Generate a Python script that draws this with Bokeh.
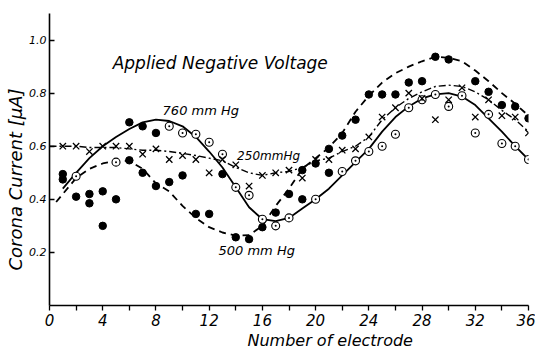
from bokeh.plotting import figure
from bokeh.models import Label, FixedTicker, Range1d, Title
from bokeh.embed import file_html
from bokeh.resources import INLINE

# ---------------- data ----------------
x_major_ticks = [0, 4, 8, 12, 16, 20, 24, 28, 32, 36]
x_minor_ticks = [2, 6, 10, 14, 18, 22, 26, 30, 34]
y_ticks = [0.2, 0.4, 0.6, 0.8, 1.0]
y_tick_labels = ["0.2", "0.4", "0.6", "0.8", "1.0"]

# filled dots
filled_x = [1, 1, 2, 3, 3, 4, 4, 5, 6, 6, 7, 7, 8, 8, 9, 10, 11, 12, 13, 14,
            15, 16, 17, 18, 19, 19, 20, 21, 21, 22, 23, 24, 25, 26, 27, 28, 29, 30, 32, 33,
            34, 35, 36]
filled_y = [0.495, 0.475, 0.41, 0.42, 0.385, 0.43, 0.30, 0.40, 0.69, 0.547,
            0.675, 0.50, 0.65, 0.45, 0.465, 0.49, 0.345, 0.345, 0.495, 0.257,
            0.25, 0.295, 0.35, 0.42, 0.40, 0.51, 0.535, 0.50, 0.59, 0.64,
            0.70, 0.795, 0.795, 0.795, 0.84, 0.845, 0.937, 0.927, 0.845, 0.805,
            0.755, 0.75, 0.705]

# circles with a dot
dotted_x = [2, 5, 9, 10, 11, 12, 13, 14, 15, 16, 17, 18, 20, 22, 23, 24, 25, 26,
            27, 28, 29, 30, 31, 32, 33, 34, 35, 36]
dotted_y = [0.487, 0.54, 0.675, 0.65, 0.645, 0.615, 0.57, 0.445, 0.415, 0.325,
            0.30, 0.33, 0.40, 0.505, 0.545, 0.58, 0.60, 0.645, 0.745, 0.775,
            0.795, 0.75, 0.79, 0.65, 0.72, 0.61, 0.60, 0.55]

# crosses (250 mmHg)
cross_x = list(range(1, 37))
cross_y = [0.60, 0.60, 0.58, 0.60, 0.60, 0.60, 0.57, 0.59, 0.55, 0.565,
           0.55, 0.50, 0.55, 0.53, 0.45, 0.49, 0.50, 0.51, 0.48, 0.55,
           0.55, 0.585, 0.59, 0.635, 0.71, 0.745, 0.80, 0.78, 0.70, 0.775,
           0.82, 0.71, 0.775, 0.715, 0.71, 0.65]

# drawn curves
curve760_x = list(range(1, 37))
curve760_y = [0.44, 0.50, 0.555, 0.60, 0.635, 0.665, 0.69, 0.70, 0.695, 0.675,
              0.635, 0.58, 0.52, 0.445, 0.37, 0.325, 0.318, 0.33, 0.365, 0.40,
              0.44, 0.49, 0.54, 0.59, 0.655, 0.71, 0.75, 0.78, 0.795, 0.80,
              0.787, 0.755, 0.705, 0.655, 0.60, 0.55]

curve500_x = [0.5] + list(range(1, 37))
curve500_y = [0.39, 0.42, 0.48, 0.515, 0.535, 0.545, 0.545, 0.515, 0.46, 0.43,
              0.375, 0.33, 0.295, 0.275, 0.263, 0.265, 0.30, 0.375, 0.44, 0.515,
              0.555, 0.595, 0.65, 0.73, 0.79, 0.84, 0.875, 0.90, 0.92, 0.937,
              0.933, 0.92, 0.885, 0.845, 0.80, 0.76, 0.715]

curve250_x = list(range(0, 37))
curve250_y = [0.60, 0.60, 0.60, 0.595, 0.595, 0.595, 0.59, 0.585, 0.585, 0.58,
              0.573, 0.565, 0.555, 0.545, 0.52, 0.50, 0.49, 0.50, 0.505, 0.52,
              0.545, 0.555, 0.58, 0.60, 0.635, 0.70, 0.745, 0.78, 0.805, 0.825,
              0.83, 0.825, 0.805, 0.775, 0.735, 0.70, 0.655]

FONT = "DejaVu Sans"

p = figure(width=535, height=349, output_backend="svg", toolbar_location=None,
           x_range=Range1d(0, 36), y_range=Range1d(0, 1.1),
           min_border_left=49, min_border_right=7, min_border_top=13,
           min_border_bottom=44)
p.outline_line_color = None
p.grid.visible = False
p.background_fill_color = "white"
p.border_fill_color = "white"

# curves
p.line(curve760_x, curve760_y, line_color="black", line_width=1.8)
p.line(curve500_x, curve500_y, line_color="black", line_width=1.8, line_dash="7 5")
p.line(curve250_x, curve250_y, line_color="black", line_width=1.4, line_dash="7 3 2 3")

# markers
p.scatter(filled_x, filled_y, marker="circle", size=7.5, fill_color="black",
          line_color="black")
p.scatter(dotted_x, dotted_y, marker="circle_dot", size=8, fill_color="white",
          line_color="black", line_width=1.1)
p.scatter(cross_x, cross_y, marker="x", size=9, line_color="black", line_width=1.3)

# axes
for ax in (p.xaxis, p.yaxis):
    ax.axis_line_width = 1.6
    ax.axis_line_color = "black"
    ax.major_tick_line_color = "black"
    ax.minor_tick_line_color = "black"
    ax.major_tick_line_width = 1.3
    ax.minor_tick_line_width = 1.3
    ax.major_label_text_font = FONT
    ax.major_label_text_font_style = "italic"
    ax.major_label_text_color = "black"

p.xaxis.ticker = FixedTicker(ticks=x_major_ticks, minor_ticks=x_minor_ticks)
p.xaxis.major_tick_in = 0
p.xaxis.major_tick_out = 5
p.xaxis.minor_tick_in = 0
p.xaxis.minor_tick_out = 5
p.xaxis.major_label_text_font_size = "15px"
p.xaxis.major_label_standoff = 3

p.yaxis.ticker = FixedTicker(ticks=y_ticks, minor_ticks=[])
p.yaxis.major_label_overrides = {t: s for t, s in zip(y_ticks, y_tick_labels)}
p.yaxis.major_tick_in = 5
p.yaxis.major_tick_out = 0
p.yaxis.major_label_text_font_size = "11px"
p.yaxis.major_label_standoff = 3

# axis titles, placed like the original
p.add_layout(Title(text="Corona Current [\u03bcA]", align="left", offset=35,
                   standoff=2, text_font=FONT, text_font_style="italic",
                   text_font_size="18px", text_color="black"), "left")
p.add_layout(Title(text="Number  of  electrode", align="left", offset=198,
                   standoff=0, text_font=FONT, text_font_style="italic",
                   text_font_size="16px", text_color="black"), "below")

# annotations inside the plot
p.add_layout(Label(x=4.75, y=0.913, text="Applied  Negative  Voltage",
                   text_align="left", text_baseline="middle", text_font=FONT,
                   text_font_style="italic", text_font_size="17px",
                   text_color="black"))
p.add_layout(Label(x=8.5, y=0.733, text="760  mm Hg", text_align="left",
                   text_baseline="middle", text_font=FONT,
                   text_font_style="italic", text_font_size="13px",
                   text_color="black"))
p.add_layout(Label(x=14.1, y=0.563, text="250mmHg", text_align="left",
                   text_baseline="middle", text_font=FONT,
                   text_font_style="italic", text_font_size="12px",
                   text_color="black"))
p.add_layout(Label(x=12.7, y=0.207, text="500 mm Hg", text_align="left",
                   text_baseline="middle", text_font=FONT,
                   text_font_style="italic", text_font_size="13px",
                   text_color="black"))

open("out.html", "w").write(file_html(p, INLINE))
